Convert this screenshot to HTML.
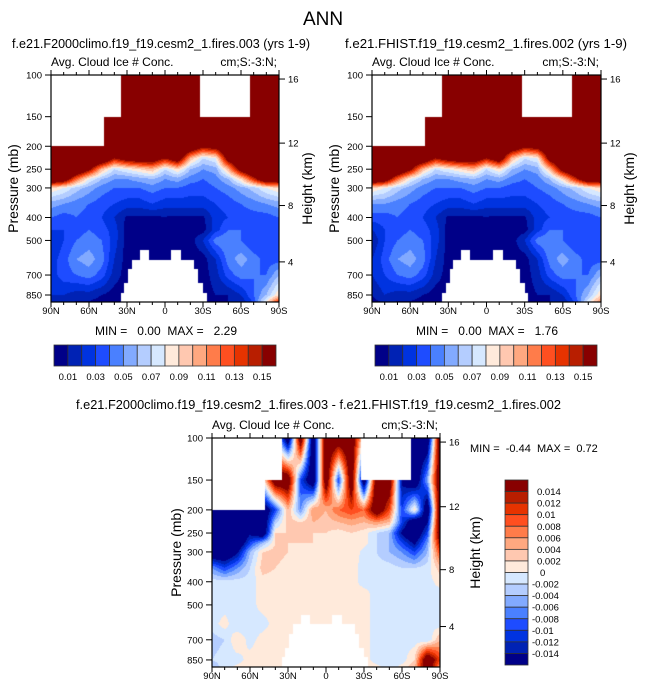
<!DOCTYPE html>
<html><head><meta charset="utf-8">
<style>
html,body{margin:0;padding:0;background:#fff;}
#wrap{position:relative;width:646px;height:691px;overflow:hidden;}
canvas{position:absolute;left:0;top:0;}
svg{position:absolute;left:0;top:0;}
text{font-family:"Liberation Sans",sans-serif;fill:#000;}
</style></head>
<body>
<div id="wrap">
<canvas id="cv" width="646" height="691"></canvas>
<svg id="sv" width="646" height="691"></svg>
</div>
<script>
// ---------- data ----------
const lats = [90,80,70,60,50,40,30,20,10,0,-10,-20,-30,-40,-50,-60,-70,-80,-90];
const levels = [100,150,200,225,250,275,300,350,400,450,500,600,700,850,925];
const absLevels = [0.01,0.02,0.03,0.04,0.05,0.06,0.07,0.08,0.09,0.10,0.11,0.12,0.13,0.14,0.15];
const absLabels = ["0.01","0.03","0.05","0.07","0.09","0.11","0.13","0.15"];
const diffLevels = [-0.014,-0.012,-0.01,-0.008,-0.006,-0.004,-0.002,0,0.002,0.004,0.006,0.008,0.01,0.012,0.014];
const diffLabels = ["-0.014","-0.012","-0.01","-0.008","-0.006","-0.004","-0.002","0","0.002","0.004","0.006","0.008","0.01","0.012","0.014"];
const latTicks = ["90N","60N","30N","0","30S","60S","90S"];
const presTicks = [100,150,200,250,300,400,500,700,850];
const heightTicks = [16,12,8,4];
const heightPres = [104,194,356,616];
const absMinMax1 = ["0.00","2.29"];
const absMinMax2 = ["0.00","1.76"];
const diffMinMax = ["-0.44","0.72"];
// missing-data regions: [lat north, lat south, p top, p bottom]
const maskRects = [[90,35,100,150],[90,48,150,200],[-28,-67,100,150],
 [26,-23,603,930],[29,-26,660,930],[32,-30,760,930],[35,-33,830,930],[20,13,550,603],[-5,-13,550,603]];

const field1 = [
[.2,.2,.2,.2,.2,.2,.2,.2,.2,.2,.2,.2,.2,.2,.2,.2,.2,.2,.2],
[.2,.2,.2,.2,.2,.2,.2,.2,.2,.2,.2,.2,.2,.2,.2,.2,.2,.2,.2],
[.2,.2,.2,.2,.2,.2,.2,.2,.2,.2,.2,.19,.16,.17,.2,.2,.2,.2,.2],
[.2,.2,.2,.2,.2,.15,.17,.18,.18,.15,.18,.1,.07,.08,.17,.2,.2,.2,.2],
[.2,.2,.2,.16,.1,.07,.08,.09,.1,.07,.09,.06,.05,.055,.1,.17,.2,.2,.2],
[.2,.18,.12,.08,.06,.05,.05,.055,.06,.05,.055,.045,.04,.045,.06,.09,.14,.19,.19],
[.09,.08,.065,.055,.045,.04,.04,.04,.045,.04,.04,.035,.035,.04,.045,.055,.065,.08,.09],
[.055,.05,.045,.04,.035,.03,.025,.025,.03,.025,.025,.025,.025,.03,.035,.04,.045,.05,.055],
[.04,.035,.04,.035,.03,.02,.008,.008,.008,.009,.008,.008,.008,.025,.03,.035,.035,.035,.04],
[.03,.03,.035,.04,.035,.025,.005,.005,.005,.005,.005,.005,.005,.025,.04,.04,.035,.03,.03],
[.02,.03,.04,.045,.04,.025,.005,.005,.005,.005,.005,.005,.02,.045,.05,.04,.03,.03,.03],
[.025,.035,.05,.055,.045,.02,.005,.005,.005,.005,.005,.005,.005,.02,.045,.055,.045,.035,.035],
[.025,.035,.04,.045,.035,.015,.005,.005,.005,.005,.005,.005,.005,.015,.035,.045,.04,.04,.06],
[.02,.02,.015,.015,.01,.005,.005,.005,.005,.005,.005,.005,.005,.01,.01,.02,.04,.06,.09],
[.01,.01,.008,.008,.005,.005,.005,.005,.005,.005,.005,.005,.005,.008,.01,.01,.03,.09,.15]
];
const field2 = [
[.2,.2,.2,.2,.2,.2,.2,.2,.2,.2,.2,.2,.2,.2,.2,.2,.2,.2,.2],
[.2,.2,.2,.2,.2,.2,.2,.2,.2,.2,.2,.2,.2,.2,.2,.2,.2,.2,.2],
[.2,.2,.2,.2,.2,.2,.2,.2,.2,.2,.2,.19,.16,.17,.2,.2,.2,.2,.2],
[.2,.2,.2,.2,.19,.15,.17,.18,.18,.15,.18,.1,.07,.08,.17,.2,.2,.2,.2],
[.2,.2,.2,.16,.1,.07,.08,.09,.1,.07,.09,.06,.05,.055,.1,.17,.2,.2,.2],
[.2,.18,.12,.08,.06,.05,.05,.055,.06,.05,.055,.045,.04,.045,.06,.09,.14,.19,.19],
[.09,.08,.065,.055,.045,.04,.04,.04,.045,.04,.04,.035,.035,.04,.045,.055,.065,.08,.09],
[.05,.05,.045,.04,.035,.03,.025,.025,.03,.025,.025,.025,.025,.03,.035,.04,.045,.05,.055],
[.035,.035,.04,.035,.03,.02,.008,.008,.008,.009,.008,.008,.008,.025,.03,.035,.035,.035,.04],
[.02,.03,.035,.04,.035,.025,.005,.005,.005,.005,.005,.005,.005,.025,.04,.04,.035,.03,.03],
[.01,.03,.04,.045,.04,.025,.005,.005,.005,.005,.005,.005,.02,.045,.05,.04,.03,.03,.03],
[.02,.035,.05,.055,.045,.02,.005,.005,.005,.005,.005,.005,.005,.02,.045,.055,.045,.035,.035],
[.02,.03,.04,.045,.035,.015,.005,.005,.005,.005,.005,.005,.005,.015,.035,.045,.04,.04,.06],
[.01,.02,.015,.015,.01,.005,.005,.005,.005,.005,.005,.005,.005,.01,.01,.02,.04,.06,.09],
[.005,.01,.008,.008,.005,.005,.005,.005,.005,.005,.005,.005,.005,.008,.01,.01,.03,.08,.12]
];
const fieldDiff = [
[0,0,0,0,0,0,-.02,.02,-.02,.02,.02,.02,0,0,0,-.02,-.02,-.02,.02],
[0,0,0,0,0,.02,.02,-.01,-.02,.02,-.01,.02,-.02,.02,.02,-.015,-.02,-.005,.02],
[-.02,-.02,-.02,-.02,-.02,-.01,.004,-.006,.006,.004,.008,.01,.008,.02,.01,-.01,.002,-.02,.02],
[-.02,-.02,-.02,-.02,-.02,-.003,.003,.002,.004,.003,.004,.005,.004,.006,.004,-.01,-.02,-.015,.02],
[-.02,-.02,-.02,-.015,-.02,.002,.002,.003,.002,.002,.001,.002,.001,-.002,-.004,-.015,-.02,-.01,.02],
[-.02,-.02,-.02,-.01,-.004,.002,.002,.002,.002,.001,.001,.002,.001,-.002,-.004,-.01,-.015,-.006,.015],
[-.02,-.02,-.015,-.004,.002,.003,.002,.001,.002,.001,.001,.002,-.001,-.002,-.004,-.006,-.01,-.004,.01],
[-.006,-.01,-.006,-.002,.003,.002,.001,.001,.001,.001,.001,.001,-.001,-.001,-.001,-.002,-.002,-.001,.003],
[-.001,-.001,-.001,-.001,.001,.001,.001,.001,.001,.002,.001,.001,-.001,-.001,-.001,-.001,-.001,-.001,.001],
[-.001,-.001,-.001,-.001,.001,.001,.001,.001,.001,.001,.001,.001,.001,-.001,-.001,-.001,-.001,-.001,-.001],
[-.002,-.001,-.001,-.001,.001,.001,.001,.001,.001,.001,.001,.001,.001,-.001,-.001,-.001,-.001,-.001,-.001],
[-.001,.001,-.002,-.001,-.001,.001,.001,.001,.001,.001,.001,.001,.001,-.001,-.001,-.001,-.001,-.001,-.001],
[-.003,-.002,.002,-.001,.001,.001,.001,.001,.001,.001,.001,.001,.001,-.001,-.001,-.001,-.001,-.002,.004],
[-.002,-.001,-.001,.001,.002,.001,.001,.001,.001,.001,.001,.001,.001,-.001,-.001,-.001,.002,.02,.01],
[-.004,-.001,.001,.001,.001,.001,.001,.001,.001,.001,.001,.001,.001,.001,-.001,.001,.004,.02,.004]
];
const colors = ["#000088","#0022b4","#0033e0","#1e4cff","#4a80ff","#82aaff","#b4cdff","#d6e8ff","#ffeadb","#ffc8b0","#ffa880","#ff7c4a","#ff4f20","#e63300","#b81e00","#880000"];

// ---------- helpers ----------
const PB = 910;
function makeAxes(x0,x1,y0,y1){
  return {
    x: lat => x0 + (90-lat)/180*(x1-x0),
    lat: x => 90 - (x-x0)/(x1-x0)*180,
    y: p => y0 + (y1-y0)*Math.log(p/100)/Math.log(PB/100),
    p: y => 100*Math.exp((y-y0)/(y1-y0)*Math.log(PB/100)),
    x0,x1,y0,y1
  };
}
function sample(field,lat,p){
  let ci = (90-lat)/10; ci = Math.max(0,Math.min(lats.length-1.0001,ci));
  const i0 = Math.floor(ci), fx = ci-i0;
  const lp = Math.log(p);
  let r = 0;
  while(r < levels.length-2 && Math.log(levels[r+1]) < lp) r++;
  let fy = (lp-Math.log(levels[r]))/(Math.log(levels[r+1])-Math.log(levels[r]));
  fy = Math.max(0,Math.min(1,fy));
  const a = field[r][i0], b = field[r][i0+1], c = field[r+1][i0], d = field[r+1][i0+1];
  return (a*(1-fx)+b*fx)*(1-fy) + (c*(1-fx)+d*fx)*fy;
}
function masked(lat,p){
  for(const m of maskRects){ if(lat<=m[0] && lat>=m[1] && p>=m[2] && p<=m[3]) return true; }
  return false;
}
function colorIdx(v,lv){ let k=0; while(k<lv.length && v>=lv[k]) k++; return k; }

const ctx = document.getElementById('cv').getContext('2d');
function drawField(ax,field,lv){
  const s=1;
  for(let py=ax.y0; py<ax.y1; py+=s){
    for(let px=ax.x0; px<ax.x1; px+=s){
      const lat = ax.lat(px+s/2), p = ax.p(py+s/2);
      if(masked(lat,p)) continue;
      ctx.fillStyle = colors[colorIdx(sample(field,lat,p),lv)];
      ctx.fillRect(px,py,s,s);
    }
  }
}

const NS="http://www.w3.org/2000/svg";
const sv=document.getElementById('sv');
function el(tag,attrs,parent){const e=document.createElementNS(NS,tag);for(const k in attrs)e.setAttribute(k,attrs[k]);(parent||sv).appendChild(e);return e;}
function txt(s,x,y,size,anchor,name,extra){
  const t=el('text',Object.assign({x:x,y:y,'font-size':size,'text-anchor':anchor||'start'},extra||{}));
  t.textContent=s;
  
  
  return t;
}

function drawPanel(ax,field,lv,opt){
  drawField(ax,field,lv);
  const g=el('g',{});
  
  
  const fr=el('rect',{x:ax.x0,y:ax.y0,width:ax.x1-ax.x0,height:ax.y1-ax.y0,fill:'none',stroke:'#000','stroke-width':1.2},g);
  
  
  for(let lat=90; lat>=-90; lat-=10){
    const x=ax.x(lat), major=(lat%30===0), L=major?5:3;
    el('line',{x1:x,x2:x,y1:ax.y1,y2:ax.y1+L,stroke:'#000','stroke-width':1},g);
    el('line',{x1:x,x2:x,y1:ax.y0,y2:ax.y0-L,stroke:'#000','stroke-width':1},g);
  }
  latTicks.forEach((s,i)=>{
    txt(s,ax.x(90-30*i),ax.y1+12,9.5,'middle','x-tick-label');
  });
  presTicks.forEach(p=>{
    const y=ax.y(p);
    el('line',{x1:ax.x0-6,x2:ax.x0,y1:y,y2:y,stroke:'#000','stroke-width':1},g);
    txt(String(p),ax.x0-9,y+3.5,9.5,'end','y-tick-label');
  });
  heightTicks.forEach((h,i)=>{
    const y=ax.y(heightPres[i]);
    el('line',{x1:ax.x1,x2:ax.x1+6,y1:y,y2:y,stroke:'#000','stroke-width':1},g);
    txt(String(h),ax.x1+9,y+3.5,9.5,'start','height-tick-label');
  });
  const yc=(ax.y0+ax.y1)/2;
  txt('Pressure (mb)',opt.pxLabel,yc,14,'middle','y-axis-title',{transform:`rotate(-90 ${opt.pxLabel} ${yc})`});
  txt('Height (km)',opt.hxLabel,yc,14,'middle','right-axis-title',{transform:`rotate(-90 ${opt.hxLabel} ${yc})`});
  txt('Avg. Cloud Ice # Conc.',ax.x0,ax.y0-9,12,'start','left-subtitle');
  txt('cm;S:-3:N;',ax.x1-2,ax.y0-9,12,'end','right-subtitle');
}

function hColorbar(x0,x1,y0,y1,labels,name){
  const g=el('g',{});
  
  
  const w=(x1-x0)/colors.length;
  colors.forEach((c,i)=>{
    const r=el('rect',{x:x0+i*w,y:y0,width:w,height:y1-y0,fill:c,stroke:'#333','stroke-width':0.8},g);
    
    
  });
  labels.forEach((s,i)=>{ txt(s,x0+w*(1+2*i),y1+14,9.5,'middle','colorbar-label'); });
}
function vColorbar(x0,x1,y0,y1,labels,name){
  const g=el('g',{});
  
  
  const h=(y1-y0)/colors.length;
  colors.slice().reverse().forEach((c,i)=>{
    const r=el('rect',{x:x0,y:y0+i*h,width:x1-x0,height:h,fill:c,stroke:'#333','stroke-width':0.8},g);
    
    
  });
  labels.slice().reverse().forEach((s,i)=>{
    const t=txt(s,x1+4,y0+h*(i+1)+3.5,9.5,'start','colorbar-label');
    if(s[0]!=='-') t.setAttribute('x', x1+9);
    if(s==='0') t.setAttribute('x', x1+12);
  });
}

// ---------- draw ----------
txt('ANN',323,25,19,'middle','main-title');
txt('f.e21.F2000climo.f19_f19.cesm2_1.fires.003 (yrs 1-9)',12,48,13,'start','left-panel-title',{textLength:298,lengthAdjust:'spacingAndGlyphs'});
txt('f.e21.FHIST.f19_f19.cesm2_1.fires.002 (yrs 1-9)',345,48,13,'start','right-panel-title',{textLength:282,lengthAdjust:'spacingAndGlyphs'});
txt('f.e21.F2000climo.f19_f19.cesm2_1.fires.003 - f.e21.FHIST.f19_f19.cesm2_1.fires.002',76,409,13,'start','diff-panel-title',{textLength:485,lengthAdjust:'spacingAndGlyphs'});

const ax1=makeAxes(51,279,75,302);
const ax2=makeAxes(372,601,75,302);
const ax3=makeAxes(212,440,438,667);
drawPanel(ax1,field1,absLevels,{name:'left-panel',pxLabel:18,hxLabel:312});
drawPanel(ax2,field2,absLevels,{name:'right-panel',pxLabel:339,hxLabel:634});
drawPanel(ax3,fieldDiff,diffLevels,{name:'diff-panel',pxLabel:181,hxLabel:480});

txt(`MIN =   ${absMinMax1[0]}  MAX =   ${absMinMax1[1]}`,166,335,12,'middle','left-min-max',{style:'white-space:pre'});
txt(`MIN =   ${absMinMax2[0]}  MAX =   ${absMinMax2[1]}`,487,335,12,'middle','right-min-max',{style:'white-space:pre'});
txt(`MIN =  ${diffMinMax[0]}  MAX =  ${diffMinMax[1]}`,470,452,11,'start','diff-min-max',{style:'white-space:pre'});
hColorbar(54,276,345,366,absLabels,'left-colorbar');
hColorbar(375,597,345,366,absLabels,'right-colorbar');
vColorbar(505,528,480,665,diffLabels,'diff-colorbar');
</script>
</body></html>
